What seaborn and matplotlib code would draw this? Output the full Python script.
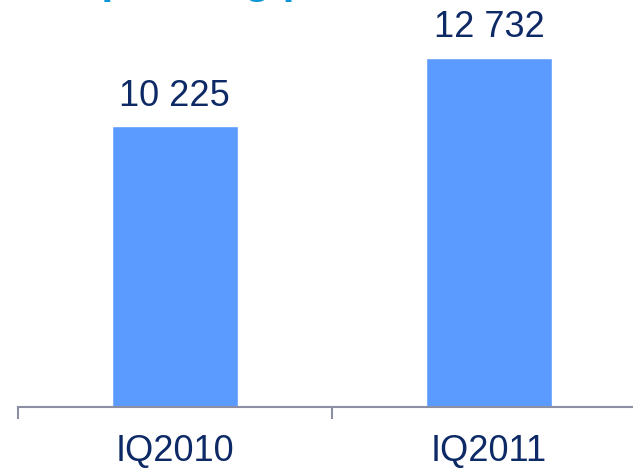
import matplotlib
matplotlib.use("Agg")
import matplotlib.pyplot as plt
import seaborn as sns
import pandas as pd

# values
quarters = ["IQ2010", "IQ2011"]
profit = [10225, 12732]
value_labels = ["10 225", "12 732"]

bar_color = "#5B9BFF"
text_color = "#0D2A66"
axis_color = "#8C8FA3"


def BarChart():
    df = pd.DataFrame({"quarter": quarters, "profit": profit})
    sns.set_style("white")
    plt.rcParams["font.family"] = ["Liberation Sans", "DejaVu Sans"]

    fig = plt.figure(figsize=(6.33, 4.68), dpi=100)
    ax = fig.add_axes([17.5 / 633, 61.5 / 468, 615.5 / 633, 406.5 / 468])

    sns.barplot(data=df, x="quarter", y="profit", color=bar_color,
                saturation=1, width=0.4, ax=ax)

    ax.set_xlim(-0.5, 1.458)
    ax.set_ylim(0, 14844)

    ax.bar_label(ax.containers[0], labels=value_labels, padding=9,
                 fontsize=26, color=text_color)

    for side in ["left", "right", "top"]:
        ax.spines[side].set_visible(False)
    ax.spines["bottom"].set_color(axis_color)
    ax.spines["bottom"].set_linewidth(1.5)

    ax.set_yticks([])
    ax.set_xticks([0, 1], quarters)
    ax.tick_params(axis="x", which="major", bottom=False, length=0, pad=20,
                   labelsize=26, labelcolor=text_color)
    ax.set_xticks([-0.5, 0.5], minor=True)
    ax.tick_params(axis="x", which="minor", bottom=True, length=8.3,
                   width=1.5, color=axis_color)
    ax.set_xlabel("")
    ax.set_ylabel("")

    # title sits mostly above the crop, only its descenders show
    fig.text(68 / 633, 1 + 7 / 468, "Operating profit", fontsize=31,
             fontweight="bold", color="#0A96D6", va="baseline", ha="left")

    fig.savefig("out.png", dpi=100)


BarChart()
